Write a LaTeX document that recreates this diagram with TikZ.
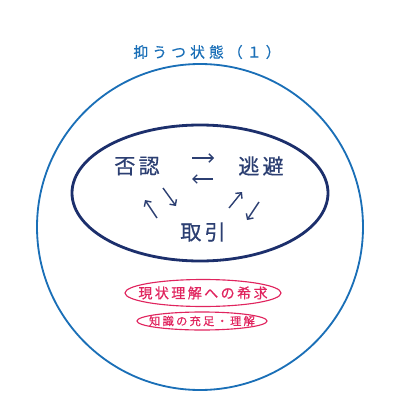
\documentclass[tikz,border=0pt]{standalone}
\usepackage{fontspec}
\newfontfamily\jpfont{Noto Sans CJK JP}
\newfontfamily\jpheavy[FakeBold=0.6]{Noto Sans CJK JP}
\usepackage{xcolor}
\usepackage{tikz}
\usetikzlibrary{arrows.meta,shapes.geometric,positioning,calc}
\definecolor{ringblue}{HTML}{1A6FB7}
\definecolor{navy}{HTML}{1C2F6C}
\definecolor{wordnavy}{HTML}{2C3F72}
\definecolor{rose}{HTML}{E0245E}

\begin{document}
\begin{tikzpicture}[x=0.025cm, y=-0.025cm,
    stage/.style={text=wordnavy, font=\jpheavy\fontsize{15}{15}\selectfont\addfontfeature{LetterSpace=15}},
    flow/.style={-{Straight Barb[length=3pt]}, line width=1pt, wordnavy},
    wish/.style={text=rose, inner sep=0pt},
    rim/.style={draw=rose, thick}]
\useasboundingbox (0,0) rectangle (400,400);
% Title
\node[text=ringblue, font=\jpheavy\fontsize{10.5}{10.5}\selectfont\addfontfeature{LetterSpace=28}] (title) at (207,52) {抑うつ状態（１）};
% Outer circle
\draw[ringblue, line width=1.3pt] (200,227) circle[radius=163];
% Inner cycle
\draw[navy, line width=2pt] (200,193) ellipse[x radius=128, y radius=68];
\node[stage] (denial) at (137,166) {否認};
\node[stage] (escape) at (261,166) {逃避};
\node[stage] (bargain) at (203,232) {取引};
% Arrows of the cycle
\coordinate (a1) at (192,158); \coordinate (a2) at (214,158);
\coordinate (b1) at (213,179); \coordinate (b2) at (192,179);
\coordinate (c1) at (163,188); \coordinate (c2) at (176,206);
\coordinate (d1) at (157,218); \coordinate (d2) at (145,200);
\coordinate (e1) at (229,208); \coordinate (e2) at (242,192);
\coordinate (f1) at (259,202); \coordinate (f2) at (247,220);
\foreach \s/\t in {a1/a2,b1/b2,c1/c2,d1/d2,e1/e2,f1/f2}
    \draw[flow] (\s) -- (\t);
% Wishes
\node[wish, font=\jpheavy\fontsize{10}{10}\selectfont\addfontfeature{LetterSpace=17}] (hope) at (203,293) {現状理解への希求};
\draw[rim] (hope.center) ellipse[x radius=78, y radius=13.5];
\node[wish, font=\jpheavy\fontsize{8}{8}\selectfont\addfontfeature{LetterSpace=20}] (need) at (202,321) {知識の充足・理解};
\draw[rim] (need.center) ellipse[x radius=65, y radius=9];
\end{tikzpicture}
\end{document}
